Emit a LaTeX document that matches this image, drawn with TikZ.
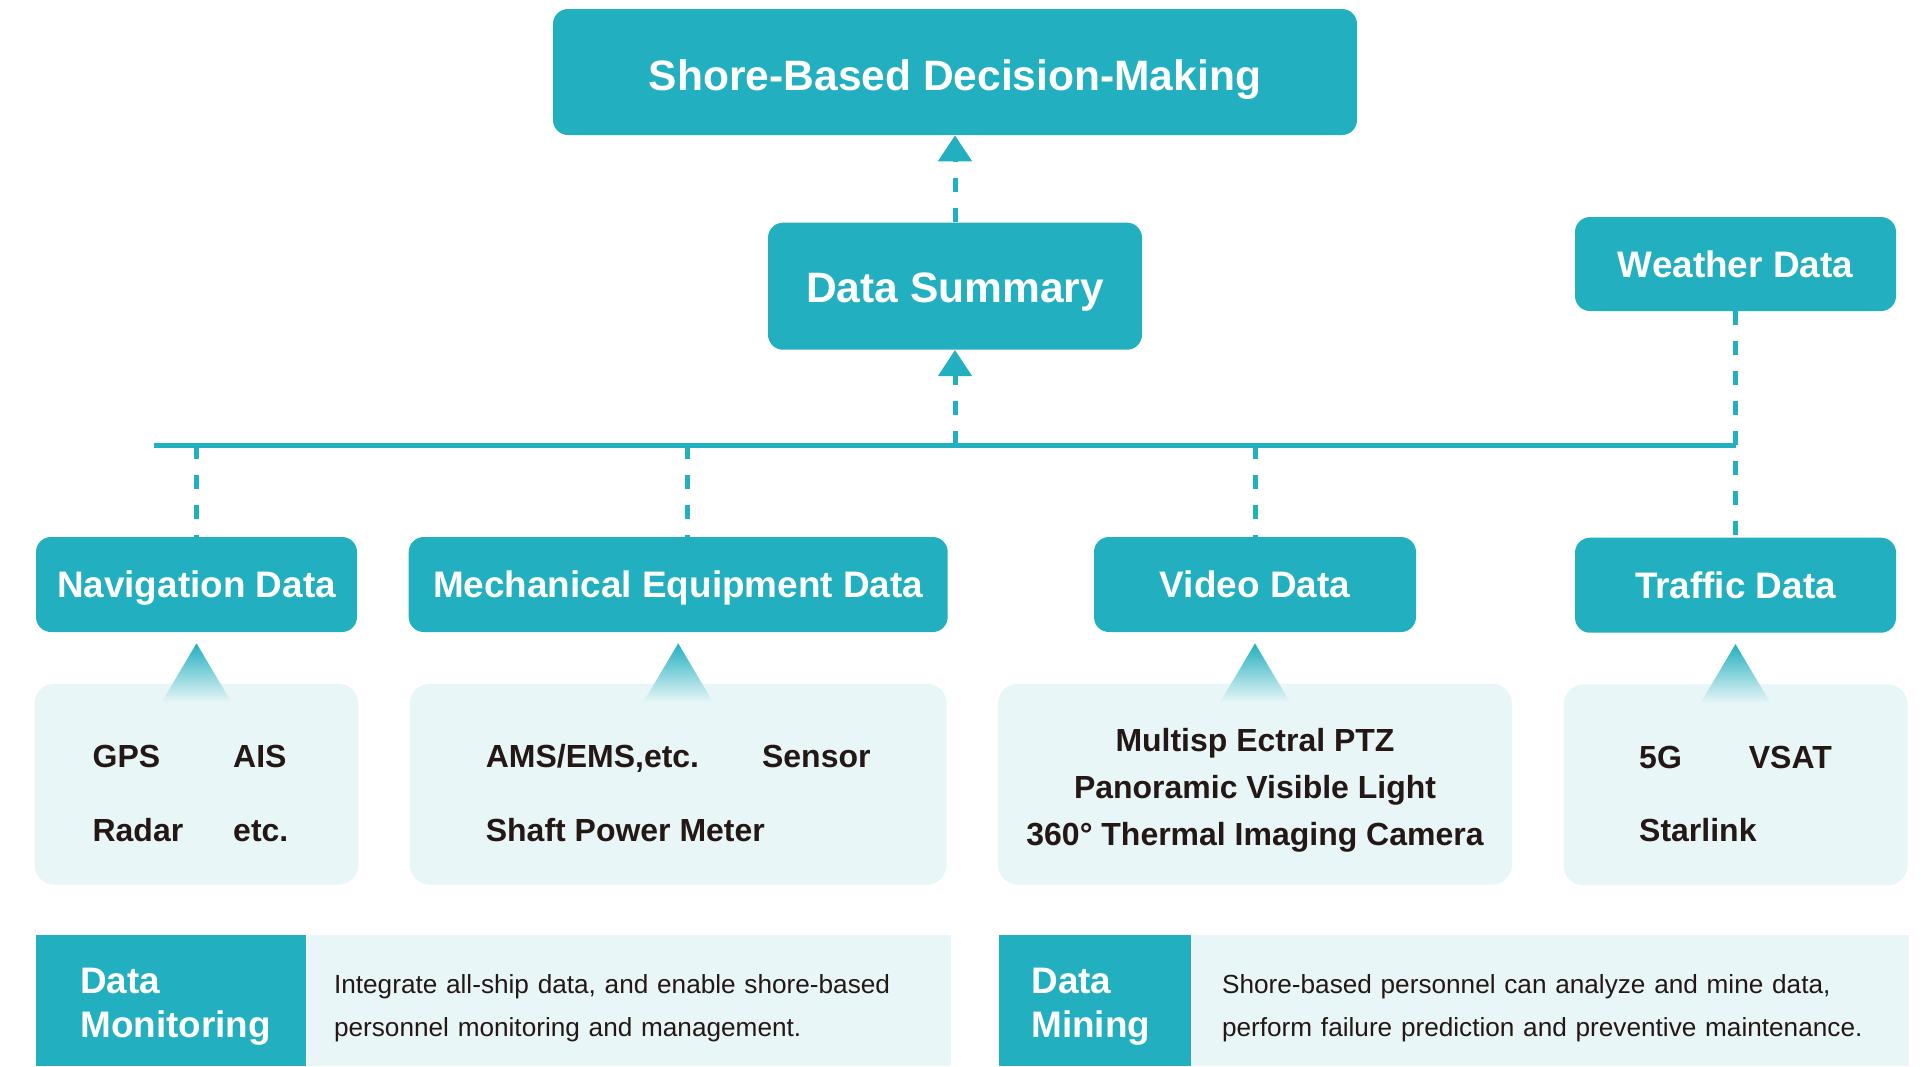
\documentclass[tikz,border=0pt]{standalone}
\usepackage{fontspec}
\setmainfont{Liberation Sans}
\usetikzlibrary{arrows.meta,positioning,calc}
\definecolor{shteal}{HTML}{22AFBF}
\definecolor{shfill}{HTML}{E8F6F7}
\definecolor{shink}{HTML}{231815}
\tikzset{
  shbox/.style={fill=shteal, rounded corners=0.3cm, text=white, inner sep=0pt,
    minimum height=1.9cm, text height=15pt, text depth=0pt,
    font=\fontsize{21}{25}\selectfont\bfseries},
  shbig/.style={shbox, text height=19pt, font=\fontsize{24.2}{29}\selectfont\bfseries},
  shinfo/.style={fill=shfill, rounded corners=0.4cm, text=shink, inner sep=0pt,
    minimum height=4.02cm, font=\fontsize{18.2}{22}\selectfont\bfseries},
  shhead/.style={fill=shteal, text=white, align=left, inner ysep=0pt,
    minimum height=2.62cm, font=\fontsize{21}{25}\selectfont\bfseries},
  shdesc/.style={fill=shfill, text=shink, align=left, inner ysep=0pt,
    minimum height=2.62cm, font=\fontsize{14.9}{24.5}\selectfont},
  shbus/.style={draw=shteal, line width=0.1cm},
  shlink/.style={draw=shteal, line width=0.1cm, dash pattern=on 0.28cm off 0.32cm},
  sharr/.style={shlink, -{Triangle[length=0.52cm,width=0.66cm]}},
}
\newcommand{\shtip}[1]{\shade[top color=shteal, middle color=shteal!75!shfill, bottom color=shfill]
  ([yshift=-0.22cm]#1.south) -- ++(-0.7,-1.18) -- ++(1.4,0) -- cycle;}
\newcommand{\shlift}[1]{\rule{0pt}{#1}}

\begin{document}
\begin{tikzpicture}
  \useasboundingbox (0,0) rectangle (38.42,-21.32);
  \node[shbig, minimum width=16.08cm, minimum height=2.52cm, text height=20.7pt] (shore) at (19.10,-1.44) {Shore-Based Decision-Making};
  \node[shbig, minimum width=7.48cm, minimum height=2.54cm, below=1.74cm of shore] (summary) {Data Summary};
  \node[shbox, minimum width=6.42cm, minimum height=1.88cm] (weather) at (34.71,-5.28) {Weather Data};
  \node[shbox, minimum width=6.42cm] (nav) at (3.93,-11.69) {Navigation Data};
  \node[shbox, minimum width=10.78cm, right=1.02cm of nav] (mech) {Mechanical Equipment Data};
  \node[shbox, minimum width=6.44cm] (video) at (25.10,-11.69) {Video Data};
  \node[shbox, minimum width=6.42cm, below=4.52cm of weather] (traffic) {Traffic Data};
  \node[shinfo, minimum width=6.48cm, below=1.02cm of nav] (navinfo) {%
    \begin{tabular}{@{}l@{\hspace{1.0cm}}l@{\hspace{0.24cm}}}\shlift{29.6pt}GPS & AIS\\[19.8pt] Radar & etc.\end{tabular}};
  \node[shinfo, minimum width=10.74cm, below=1.02cm of mech] (mechinfo) {%
    \begin{tabular}{@{}l@{\hspace{1.26cm}}l@{}}\shlift{29.6pt}AMS/EMS,etc. & Sensor\\[19.8pt] \multicolumn{2}{@{}l@{}}{Shaft Power Meter}\end{tabular}};
  \node[shinfo, minimum width=10.28cm, below=1.02cm of video, align=center,
    font=\fontsize{18.2}{26.7}\selectfont\bfseries] (videoinfo) {%
    \shlift{20.3pt}Multisp Ectral PTZ\\Panoramic Visible Light\\360° Thermal Imaging Camera};
  \node[shinfo, minimum width=6.88cm, below=1.02cm of traffic] (trafficinfo) {%
    \begin{tabular}{@{}l@{\hspace{1.34cm}}l@{}}\shlift{29.6pt}5G & VSAT\\[19.8pt] \multicolumn{2}{@{}l@{}}{Starlink}\end{tabular}};
  \shtip{nav}
  \shtip{mech}
  \shtip{video}
  \shtip{traffic}
  \node[shhead, anchor=north west, inner xsep=0.88cm, text width=3.64cm] (monhead) at (0.72,-18.70) {\shlift{21pt}Data\\Monitoring};
  \node[shdesc, inner xsep=0.54cm, text width=11.80cm, right=0pt of monhead] (mondesc) {%
    \shlift{18.8pt}Integrate all-ship data, and enable shore-based\\personnel monitoring and management.};
  \node[shhead, anchor=north west, inner xsep=0.64cm, text width=2.56cm] (minhead) at (19.98,-18.70) {\shlift{21pt}Data\\Mining};
  \node[shdesc, inner xsep=0.60cm, text width=13.14cm, right=0pt of minhead] (mindesc) {%
    \shlift{18.8pt}Shore-based personnel can analyze and mine data,\\perform failure prediction and preventive maintenance.};
  \coordinate (busL) at (3.08,-8.90);
  \draw[shbus] (busL) -- (busL -| weather.south);
  \draw[sharr] (summary) -- (shore);
  \draw[sharr] (busL -| summary.south) -- (summary);
  \draw[shlink] (busL -| nav.north) -- (nav);
  \draw[shlink] ([xshift=0.18cm]busL -| mech.north) -- ([xshift=0.18cm]mech.north);
  \draw[shlink] (busL -| video.north) -- (video);
  \draw[shlink] (weather) -- (traffic);
\end{tikzpicture}
\end{document}
